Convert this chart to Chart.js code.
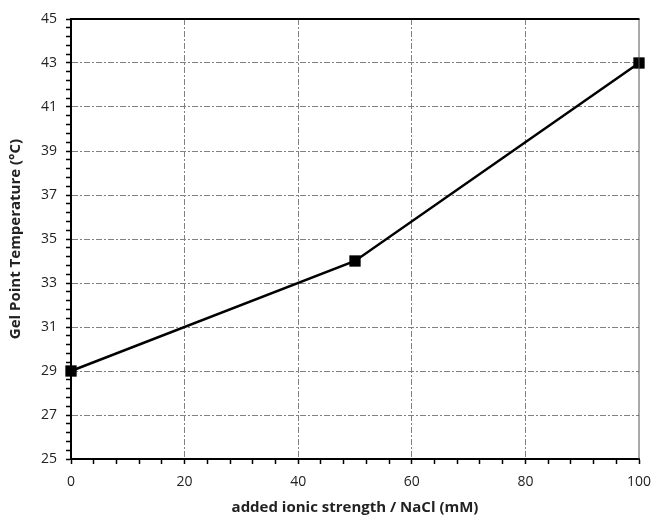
<!DOCTYPE html>
<html>
<head>
<meta charset="utf-8">
<script src="https://cdn.jsdelivr.net/npm/chart.js@4/dist/chart.umd.min.js"></script>
<style>
  html, body { margin: 0; padding: 0; background: #fff; }
  .chart-wrap { width: 654px; height: 517px; }
</style>
</head>
<body>
<div class="chart-wrap"><canvas id="chart"></canvas></div>
<script>
const ionicStrength = [0, 50, 100];
const gelPointTemp = [29, 34, 43];
const xTickLabels = [0, 20, 40, 60, 80, 100];
const yTickLabels = [25, 27, 29, 31, 33, 35, 37, 39, 41, 43, 45];

const FONT = "'Open Sans', 'Noto Sans', sans-serif";

const isLabel = (list, v) => list.some((t) => Math.abs(t - v) < 1e-6);

// top border is heavy black, right border is thin grey
const chartAreaBorder = {
  id: "chartAreaBorder",
  afterDraw(chart) {
    const { ctx, chartArea: { left, top, right, bottom } } = chart;
    ctx.save();
    ctx.strokeStyle = "#555";
    ctx.lineWidth = 1;
    ctx.beginPath();
    ctx.moveTo(right, top);
    ctx.lineTo(right, bottom);
    ctx.stroke();
    ctx.strokeStyle = "#000";
    ctx.lineWidth = 2;
    ctx.beginPath();
    ctx.moveTo(left - 1, top);
    ctx.lineTo(right + 0.5, top);
    ctx.stroke();
    ctx.restore();
  },
};

// only the labelled ticks get a grid line, the rest are minor ticks
const gridColor = (list, lo, hi) => (c) => {
  const v = c.tick.value;
  if (Math.abs(v - lo) < 1e-6 || Math.abs(v - hi) < 1e-6) return "rgba(0,0,0,0)";
  return isLabel(list, v) ? "#808080" : "rgba(0,0,0,0)";
};

new Chart(document.getElementById("chart"), {
  type: "line",
  data: {
    datasets: [
      {
        data: ionicStrength.map((x, i) => ({ x: x, y: gelPointTemp[i] })),
        borderColor: "#000",
        borderWidth: 2.5,
        backgroundColor: "#000",
        pointStyle: "rect",
        pointRadius: 8,
        pointBorderWidth: 0,
        tension: 0,
        clip: false,
      },
    ],
  },
  options: {
    responsive: true,
    maintainAspectRatio: false,
    animation: false,
    layout: { padding: 0 },
    scales: {
      x: {
        type: "linear",
        min: 0,
        max: 100,
        afterFit: (scale) => {
          scale.height = 58;
          scale.paddingLeft = 0;
          scale.paddingRight = 15;
        },
        grid: {
          color: gridColor(xTickLabels, 0, 100),
          lineWidth: 1,
          drawTicks: true,
          tickLength: 5,
          tickColor: "#000",
          tickWidth: 1.5,
          tickBorderDash: [],
        },
        border: { display: true, color: "#000", width: 2, dash: [6, 2, 2, 2] },
        ticks: {
          stepSize: 4,
          autoSkip: false,
          maxRotation: 0,
          padding: 10,
          color: "#222",
          font: { family: FONT, size: 14 },
          callback: (v) => (isLabel(xTickLabels, v) ? String(Math.round(v)) : ""),
        },
        title: {
          display: true,
          text: "added ionic strength / NaCl (mM)",
          color: "#222",
          font: { family: FONT, size: 15, weight: "bold" },
          padding: { top: 0, bottom: 0 },
        },
      },
      y: {
        type: "linear",
        min: 25,
        max: 45,
        afterFit: (scale) => {
          scale.width = 71;
          scale.paddingTop = 19;
          scale.paddingBottom = 0;
        },
        grid: {
          color: gridColor(yTickLabels, 25, 45),
          lineWidth: 1,
          drawTicks: true,
          tickLength: 5,
          tickColor: "#000",
          tickWidth: 1.5,
          tickBorderDash: [],
        },
        border: { display: true, color: "#000", width: 2, dash: [6, 2, 2, 2] },
        ticks: {
          stepSize: 0.4,
          autoSkip: false,
          padding: 9,
          color: "#222",
          font: { family: FONT, size: 14 },
          callback: (v) => (isLabel(yTickLabels, v) ? String(Math.round(v)) : ""),
        },
        title: {
          display: true,
          text: "Gel Point Temperature (°C)",
          color: "#222",
          font: { family: FONT, size: 15, weight: "bold" },
          padding: { top: 7, bottom: 0 },
        },
      },
    },
    plugins: {
      legend: { display: false },
      tooltip: { enabled: false },
    },
  },
  plugins: [chartAreaBorder],
});
</script>
</body>
</html>
